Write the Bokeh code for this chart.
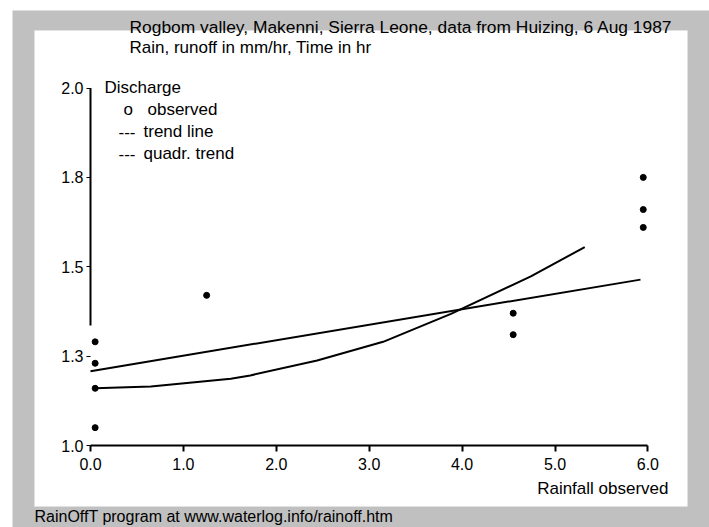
from bokeh.plotting import figure
from bokeh.models import Range1d, LinearAxis, FixedTicker, Label, BoxAnnotation
from bokeh.embed import file_html
from bokeh.resources import INLINE

# ---- data ----
obs_x = [0.05, 0.05, 0.05, 0.05, 1.25, 4.55, 4.55, 5.95, 5.95, 5.95]
obs_y = [1.29, 1.23, 1.16, 1.05, 1.42, 1.37, 1.31, 1.75, 1.66, 1.61]

trend_x = [0.0, 5.92]
trend_y = [1.208, 1.464]

quad_x = [0.05, 0.65, 1.51, 1.72, 2.44, 3.15, 3.88, 4.74, 5.32]
quad_y = [1.16, 1.165, 1.187, 1.196, 1.238, 1.29, 1.368, 1.473, 1.555]

x_ticks = [0, 1, 2, 3, 4, 5, 6]
x_tick_labels = ["0.0", "1.0", "2.0", "3.0", "4.0", "5.0", "6.0"]
y_ticks = [1.0, 1.25, 1.5, 1.75, 2.0]
y_tick_labels = ["1.0", "1.3", "1.5", "1.8", "2.0"]

title1 = "Rogbom valley, Makenni, Sierra Leone, data from Huizing, 6 Aug 1987"
title2 = "Rain, runoff in mm/hr, Time in hr"
legend_head = "Discharge"
legend_symbols = ["o", "---", "---"]
legend_names = ["observed", "trend line", "quadr. trend"]
x_title = "Rainfall observed"
footer = "RainOffT program at www.waterlog.info/rainoff.htm"

FONT = "Liberation Sans"
GRAY = "#C0C0C0"

# page-pixel -> data helpers
X0_PX, X_PER = 90.0, 92.9
Y0_PX, Y_PER = 445.0, 357.5


def dx(px):
    return (px - X0_PX) / X_PER


def dy(py):
    return 1.0 + (Y0_PX - py) / Y_PER


# canvas occupies page x 12..709, y 10..527; the frame fills the whole canvas
p = figure(
    width=697, height=517, margin=(10, 0, 0, 12),
    output_backend="svg", toolbar_location=None,
    x_range=Range1d(dx(12), dx(709)), y_range=Range1d(dy(527), dy(10)),
    x_axis_location=None, y_axis_location=None,
    min_border=0,
    border_fill_color=GRAY, background_fill_color=GRAY,
    outline_line_color=None,
)
p.grid.visible = False

# white plotting panel
p.add_layout(BoxAnnotation(left=dx(34), right=dx(687), top=dy(30), bottom=dy(506),
                           fill_color="white", fill_alpha=1.0,
                           line_color="#E6E6E6", line_width=1, level="underlay"))

# axes
xax = LinearAxis(fixed_location=1.0, bounds=(0, 6))
xax.ticker = FixedTicker(ticks=x_ticks)
xax.major_label_overrides = {t: l for t, l in zip(x_ticks, x_tick_labels)}
xax.axis_line_width = 2
xax.major_tick_line_width = 2
xax.major_tick_in = 0
xax.major_tick_out = 6
xax.minor_tick_line_color = None
xax.major_label_standoff = 6
xax.major_label_text_font = FONT
xax.major_label_text_font_size = "16px"
xax.major_label_text_color = "black"
p.add_layout(xax, "below")

yax = LinearAxis(fixed_location=0.0, bounds=(1, 2))
yax.ticker = FixedTicker(ticks=y_ticks)
yax.major_label_overrides = {t: l for t, l in zip(y_ticks, y_tick_labels)}
yax.axis_line_color = None
yax.major_tick_line_width = 1
yax.major_tick_in = 0
yax.major_tick_out = 4
yax.minor_tick_line_color = None
yax.major_label_standoff = 3
yax.major_label_text_font = FONT
yax.major_label_text_font_size = "16px"
yax.major_label_text_color = "black"
p.add_layout(yax, "left")

# visible part of the vertical axis line
p.segment(x0=[0.0], y0=[1.336], x1=[0.0], y1=[2.0], line_color="black", line_width=2)

# data
p.line(trend_x, trend_y, line_color="black", line_width=2)
p.line(quad_x, quad_y, line_color="black", line_width=2)
p.scatter(obs_x, obs_y, size=6, fill_color="black", line_color="black")


def add_text(txt, px, py, align="left", size="17px"):
    p.add_layout(Label(x=dx(px), y=dy(py), text=txt, text_font=FONT,
                       text_font_size=size, text_color="black",
                       text_align=align, text_baseline="alphabetic"))


add_text(title1, 129, 26, size="17.4px")
add_text(title2, 129, 47)
add_text(legend_head, 104, 87)
sym_x = [123, 118, 118]
name_x = [147, 143, 143]
rows_y = [109, 131, 153]
for s, n, sx, nx, ry in zip(legend_symbols, legend_names, sym_x, name_x, rows_y):
    add_text(s, sx, ry)
    add_text(n, nx, ry)
add_text(x_title, 668, 488, align="right")
add_text(footer, 34, 516, size="16px")

open("out.html", "w").write(file_html(p, INLINE))
